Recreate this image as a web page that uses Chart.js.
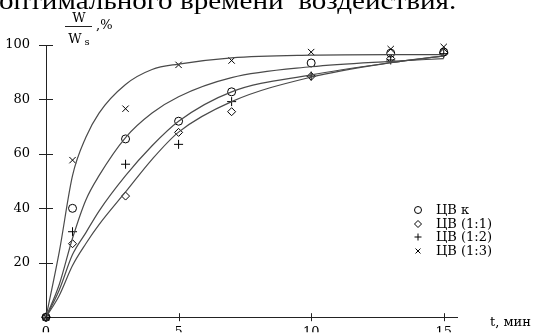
<!DOCTYPE html>
<html>
<head>
<meta charset="utf-8">
<script src="https://cdn.jsdelivr.net/npm/chart.js@4"></script>
<style>
  html, body { margin: 0; padding: 0; background: #fff; overflow: hidden; }
  #wrap { position: relative; width: 543px; height: 333px; }
  #wrap canvas { position: absolute; left: 0; top: 0; }
  #caption { position: absolute; left: -1px; top: -12px; font: 26px "Liberation Serif"; line-height: 26px; white-space: pre; color: #000; transform: scaleX(1.12); transform-origin: 0 0; }
</style>
</head>
<body>
<div id="wrap">
  <canvas id="kinetics" width="543" height="333"></canvas>
  <div id="caption">оптимального времени  воздействия.</div>
</div>
<script>
// measured points
const tPoints = [0, 1, 3, 5, 7, 10, 13, 15];
const cvK  = [0, 40, 65.5, 72, 82.8, 93.4, 97, 97.4];
const cv11 = [0, 27, 44.5, 67.9, 75.5, 88.5, 95, 97.2];
const cv12 = [0, 31.4, 56.2, 63.5, 79.2, 88.6, 94.5, 96.8];
const cv13 = [0, 57.7, 76.6, 92.7, 94.3, 97.4, 98.5, 99.3];

// fitted curves
const tCurve = [0, 0.5, 1, 1.5, 2, 3, 4, 5, 7, 10, 13, 15];
const fitK  = [0, 12, 29, 43, 52, 66, 75, 81, 88, 92, 94, 95];
const fit11 = [0, 8, 19, 27, 34, 46, 58, 68, 79.2, 88.2, 93.5, 96];
const fit12 = [0, 10, 23, 31, 39, 52, 63, 72, 82.8, 89, 93.5, 96];
const fit13 = [0, 24, 52, 66, 75, 85.5, 91, 93, 95.3, 96.3, 96.5, 96.5];

const xTicks = [0, 5, 10, 15];
const yTicks = [20, 40, 60, 80, 100];

const seriesNames = ['ЦВ к', 'ЦВ (1:1)', 'ЦВ (1:2)', 'ЦВ (1:3)'];
const xTitle = 't, мин';

const pts = (xs, ys) => xs.map((v, i) => ({x: v, y: ys[i]}));

function marker(label, data, style, r) {
  return { type: 'scatter', label, data: pts(tPoints, data), pointStyle: style, pointRadius: r,
    borderColor: '#000', backgroundColor: 'rgba(0,0,0,0)', pointBorderWidth: 1, showLine: false, clip: false, isMarker: true };
}
function curve(label, data) {
  return { type: 'line', label, data: pts(tCurve, data), borderColor: '#4a4a4a', borderWidth: 1.2,
    pointRadius: 0, fill: false, cubicInterpolationMode: 'monotone', clip: false };
}

const serif = '"DejaVu Serif", serif';

const axisDecor = {
  id: 'axisDecor',
  afterDraw(chart) {
    const { ctx, chartArea: a, scales: { x, y } } = chart;
    ctx.save();
    ctx.strokeStyle = '#222';
    ctx.lineWidth = 1;
    ctx.beginPath();
    yTicks.forEach(v => { const py = Math.round(y.getPixelForValue(v)) + 0.5; ctx.moveTo(a.left - 7, py); ctx.lineTo(a.left + 7, py); });
    xTicks.forEach(v => { const px = Math.round(x.getPixelForValue(v)) + 0.5; ctx.moveTo(px, a.bottom - 4); ctx.lineTo(px, a.bottom + 4); });
    ctx.stroke();

    // y title: W / W_s ,%
    ctx.fillStyle = '#000';
    ctx.textBaseline = 'alphabetic';
    ctx.font = '13px ' + serif;
    ctx.textAlign = 'center';
    ctx.fillText('W', 79, 22);
    ctx.fillText('W', 75, 43);
    ctx.font = '10px ' + serif;
    ctx.fillText('s', 87, 45);
    ctx.beginPath();
    ctx.moveTo(65, 26.5); ctx.lineTo(92, 26.5);
    ctx.stroke();
    ctx.font = '13px ' + serif;
    ctx.textAlign = 'left';
    ctx.fillText(',%', 96, 29);

    // x title
    ctx.font = '13px ' + serif;
    ctx.textBaseline = 'middle';
    ctx.fillText(xTitle, 490, 323);

    // legend
    const rows = [210, 224, 237, 251];
    chart.data.datasets.filter(d => d.isMarker).forEach((d, i) => {
      ctx.strokeStyle = '#000';
      ctx.fillStyle = 'rgba(0,0,0,0)';
      Chart.helpers.drawPoint(ctx, { pointStyle: d.pointStyle, radius: Math.min(d.pointRadius, 3.5), rotation: 0, borderWidth: 1 }, 418, rows[i]);
      ctx.fillStyle = '#000';
      ctx.font = '13px ' + serif;
      ctx.textAlign = 'left';
      ctx.textBaseline = 'middle';
      ctx.fillText(d.label, 436, rows[i] + 1);
    });
    ctx.restore();
  }
};

new Chart(document.getElementById('kinetics'), {
  data: {
    datasets: [
      curve(seriesNames[3], fit13),
      curve(seriesNames[0], fitK),
      curve(seriesNames[2], fit12),
      curve(seriesNames[1], fit11),
      marker(seriesNames[0], cvK, 'circle', 4),
      marker(seriesNames[1], cv11, 'rectRot', 4),
      marker(seriesNames[2], cv12, 'cross', 4.5),
      marker(seriesNames[3], cv13, 'crossRot', 4.5)
    ]
  },
  options: {
    responsive: false,
    animation: false,
    layout: { padding: { top: 45, right: 86, left: 0, bottom: 0 } },
    plugins: { legend: { display: false }, tooltip: { enabled: false } },
    scales: {
      x: {
        type: 'linear', min: 0, max: 15.5,
        afterBuildTicks: s => { s.ticks = xTicks.map(v => ({ value: v })); },
        afterFit: s => { s.height = 15; },
        grid: { display: false },
        border: { display: true, color: '#222', width: 1 },
        ticks: { color: '#000', font: { family: serif, size: 13 }, padding: 0, maxRotation: 0 }
      },
      y: {
        type: 'linear', min: 0, max: 100,
        afterBuildTicks: s => { s.ticks = yTicks.map(v => ({ value: v })); },
        afterFit: s => { s.width = 46; },
        grid: { display: false },
        border: { display: true, color: '#222', width: 1 },
        ticks: { color: '#000', font: { family: serif, size: 13 }, padding: 8 }
      }
    }
  },
  plugins: [axisDecor]
});
</script>
</body>
</html>
